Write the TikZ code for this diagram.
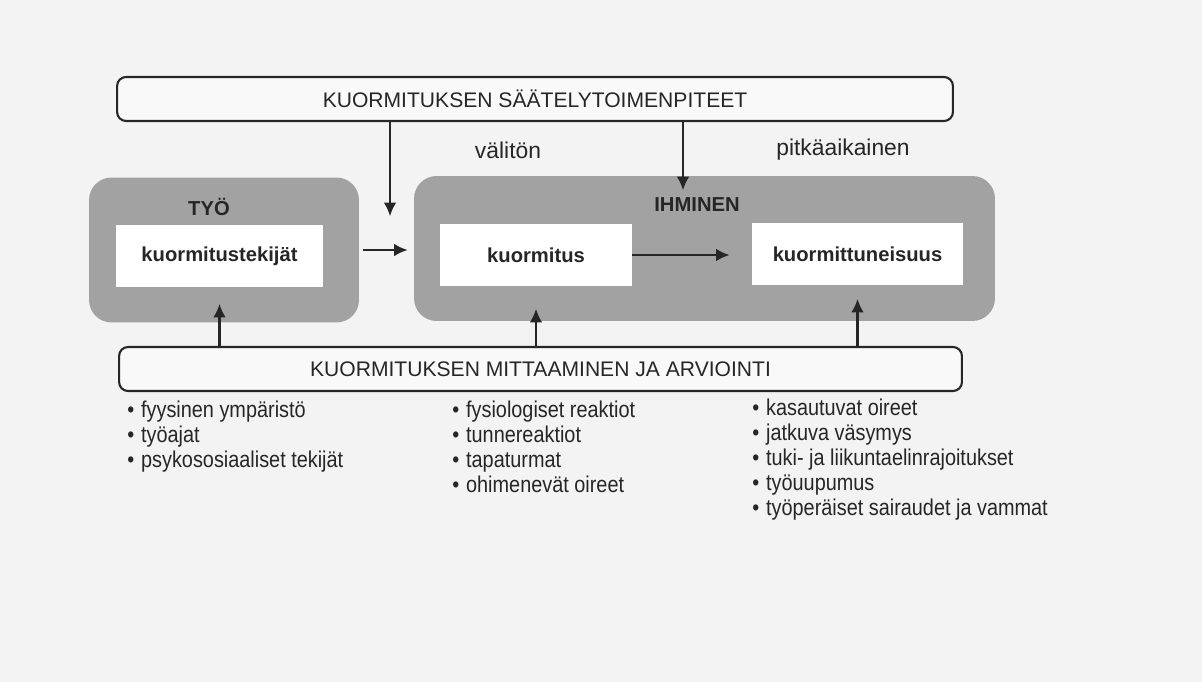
\documentclass[tikz,border=0pt]{standalone}
\usepackage{fontspec}
\setmainfont{Liberation Sans}
\newfontfamily\narrowfont{Liberation Sans}[FakeStretch=0.87]
\usetikzlibrary{arrows.meta}
\definecolor{ink}{HTML}{262626}
\definecolor{slab}{HTML}{A2A2A2}
\definecolor{paper}{HTML}{F3F3F3}
\tikzset{panel/.style={
  rectangle,
  fill=slab,rounded corners=0.45cm,
  inner sep=0pt,minimum height=2.9cm}}
\tikzset{field/.style={
  rectangle,
  fill=white,text=ink,
  inner sep=0pt,minimum height=1.26cm,
  font=\bfseries\fontsize{11.5}{13}\selectfont}}
\tikzset{band/.style={
  rectangle,
  draw=ink,line width=1.2pt,rounded corners=0.18cm,
  fill=white!50!paper,text=ink,
  inner sep=0pt,minimum height=0.88cm,
  font=\fontsize{12}{14}\selectfont}}
\tikzset{tag/.style={text=ink,inner sep=0pt,font=\fontsize{13}{15}\selectfont}}
\tikzset{points/.style={
  text=ink,inner sep=0pt,align=left,anchor=base west,
  font=\narrowfont\fontsize{13}{14.2}\selectfont}}
\tikzset{>={Latex[length=0.27cm,width=0.25cm]}}
\tikzset{shorten >=1pt}
\newcommand{\pt}{\textbullet\hspace{0.3em}}

\begin{document}
\begin{tikzpicture}[x={(0.02cm,0cm)},y={(0cm,-0.02cm)}]
  \fill[paper] (0,0) rectangle (1202,682);
  % grey panels and their fields
  \node[panel,minimum width=5.4cm] (tyo) at (224,250) {};
  \node[panel,minimum width=11.62cm] (ihminen) at (704.5,248.5) {};
  \foreach \n/\p/\w/\l in {
      tekijat/{(219.5,256)}/4.14cm/{kuormitustekijät},
      kuormitus/{(536,255)}/3.84cm/{kuormitus},
      tuneisuus/{(857.5,254)}/4.22cm/{kuormittuneisuus} }
    \node[field,minimum width=\w] (\n) at \p {\l};
  \node[tag,font=\bfseries\fontsize{11.5}{13}\selectfont] (tyolabel) at (209,207) {TYÖ};
  \node[tag,font=\bfseries\fontsize{11.5}{13}\selectfont] (ihmlabel) at (697,205) {IHMINEN};
  \node[tag] (valiton) at (508,150) {välitön};
  \node[tag] (pitka) at (843,150) {pitkäaikainen};
  % the two bands
  \node[band,minimum width=16.72cm] (saately) at (535,99) {KUORMITUKSEN SÄÄTELYTOIMENPITEET};
  \node[band,minimum width=16.86cm] (mittaus) at (540.5,369) {KUORMITUKSEN MITTAAMINEN JA ARVIOINTI};
  \coordinate (paine) at (390,218);
  \coordinate (ohjaus) at (683,192);
  % arrows
  \begin{scope}[ink,line width=1.2pt]
    \draw[->] (saately.south -| paine) -- (paine);
    \draw[->] (saately.south -| ohjaus) -- (ohjaus);
    \draw[->,shorten <=2pt,shorten >=0.12cm] (tyo.east) -- (ihminen.west |- tyo.east);
    \draw[->,shorten >=0.44cm] (kuormitus) -- (kuormitus -| tuneisuus.west);
    \foreach \n/\s in {tekijat/0.32cm,kuormitus/0.44cm,tuneisuus/0.26cm}
      \draw[->,shorten >=\s] (mittaus.north -| \n) -- (\n.south);
  \end{scope}
  % lists (anchored at the baseline of their last line)
  \node[points] (tyolista) at (127,467) {\pt fyysinen ympäristö\\\pt työajat\\\pt psykososiaaliset tekijät};
  \node[points] (valilista) at (452,492) {\pt fysiologiset reaktiot\\\pt tunnereaktiot\\\pt tapaturmat\\\pt ohimenevät oireet};
  \node[points] (pitkalista) at (752,515) {\pt kasautuvat oireet\\\pt jatkuva väsymys\\\pt tuki- ja liikuntaelinrajoitukset\\\pt työuupumus\\\pt työperäiset sairaudet ja vammat};
\end{tikzpicture}
\end{document}
